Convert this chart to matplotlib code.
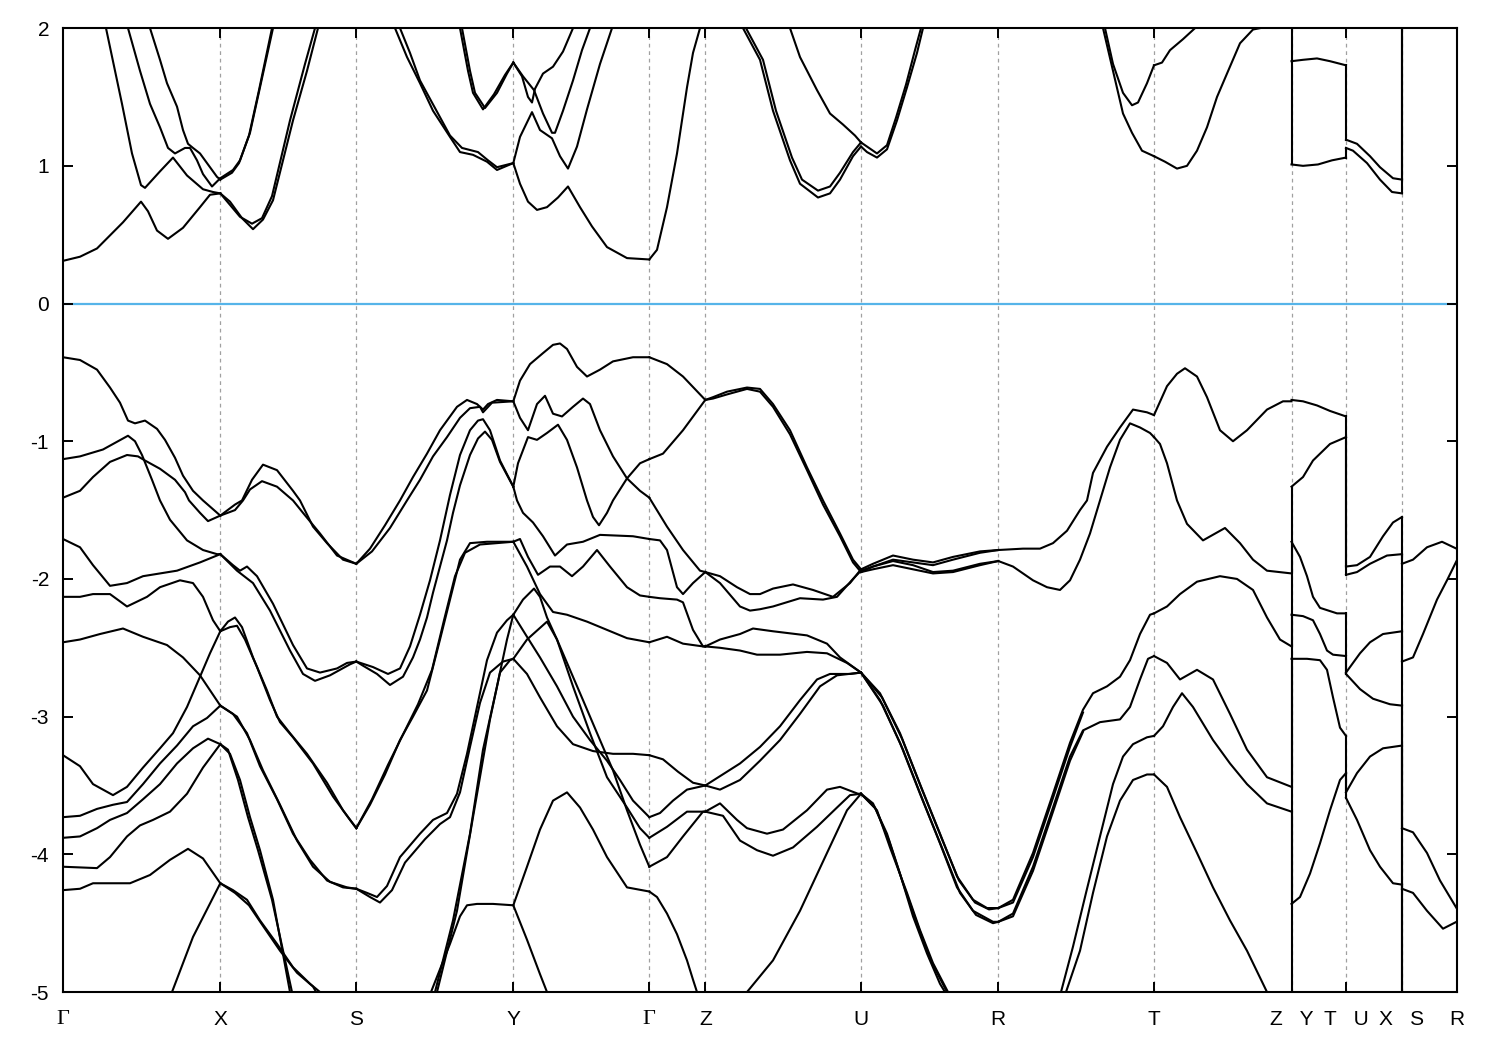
import numpy as np
import matplotlib
matplotlib.use("Agg")
from matplotlib import pyplot as plt

plt.rcParams['font.family'] = ['Liberation Sans', 'DejaVu Sans']
plt.rcParams['axes.unicode_minus'] = False

# k-path (arbitrary path length units) and labels
tick_pos = [0.0, 1.573, 2.933, 4.503, 5.863, 6.423, 7.98, 9.353, 10.91,
            12.285, 12.83, 13.39, 13.935]
tick_lab = ['Γ', 'X', 'S', 'Y', 'Γ', 'Z', 'U', 'R', 'T',
            'Z   Y', 'T   U', 'X   S', 'R']
e_lim = (-5, 2)

# bands, one list of (k, E) per visible line, grouped by path segment
gamma_x = [
    [(0, .31), (.17, .34), (.34, .40), (.60, .59), (.78, .74), (.85, .67), (.94, .53), (1.05, .47),
     (1.20, .55), (1.37, .70), (1.47, .79), (1.573, .80)],
    [(.42, 2.1), (.43, 2.0), (.59, 1.45), (.69, 1.09), (.78, .86), (.82, .84), (.97, .96), (1.10, 1.06),
     (1.24, .93), (1.40, .83), (1.50, .81), (1.573, .80)],
    [(.63, 2.1), (.65, 2.0), (.77, 1.69), (.87, 1.45), (.97, 1.28), (1.05, 1.13), (1.12, 1.09),
     (1.22, 1.13), (1.27, 1.13), (1.34, 1.04), (1.40, .94), (1.49, .85), (1.573, .91)],
    [(.85, 2.1), (.87, 2.0), (.97, 1.77), (1.04, 1.60), (1.14, 1.43), (1.20, 1.26), (1.25, 1.16),
     (1.30, 1.13), (1.37, 1.09), (1.44, 1.02), (1.54, .92), (1.573, .90)],
    [(0, -.39), (.17, -.41), (.34, -.48), (.47, -.61), (.57, -.72), (.65, -.85), (.72, -.87), (.82, -.85),
     (.94, -.91), (1.02, -.99), (1.12, -1.12), (1.20, -1.25), (1.30, -1.36), (1.40, -1.43), (1.573, -1.54)],
    [(0, -1.13), (.17, -1.11), (.40, -1.06), (.55, -1.00), (.65, -.96), (.72, -1.00), (.79, -1.10),
     (.89, -1.28), (.97, -1.43), (1.07, -1.57), (1.24, -1.72), (1.40, -1.79), (1.54, -1.82), (1.573, -1.82)],
    [(0, -1.41), (.17, -1.36), (.30, -1.26), (.47, -1.15), (.64, -1.10), (.75, -1.11), (.82, -1.14),
     (.97, -1.20), (1.12, -1.28), (1.22, -1.37), (1.26, -1.43), (1.37, -1.52), (1.45, -1.58), (1.573, -1.54)],
    [(0, -1.71), (.17, -1.77), (.30, -1.90), (.47, -2.05), (.64, -2.03), (.80, -1.98), (1.14, -1.94),
     (1.37, -1.88), (1.573, -1.82)],
    [(0, -2.13), (.17, -2.13), (.30, -2.11), (.47, -2.11), (.64, -2.20), (.84, -2.13), (.97, -2.06),
     (1.17, -2.01), (1.30, -2.03), (1.40, -2.13), (1.50, -2.30), (1.573, -2.38)],
    [(0, -2.46), (.17, -2.44), (.37, -2.40), (.60, -2.36), (.80, -2.42), (1.04, -2.48), (1.20, -2.57),
     (1.37, -2.70), (1.573, -2.92)],
    [(0, -3.28), (.17, -3.36), (.30, -3.49), (.50, -3.57), (.64, -3.51), (.80, -3.37), (.97, -3.23),
     (1.10, -3.12), (1.24, -2.93), (1.37, -2.71), (1.47, -2.54), (1.573, -2.38)],
    [(0, -3.73), (.17, -3.72), (.34, -3.67), (.50, -3.64), (.64, -3.62), (.80, -3.49), (.97, -3.34),
     (1.14, -3.21), (1.30, -3.07), (1.44, -3.01), (1.573, -2.92)],
    [(0, -3.88), (.17, -3.87), (.34, -3.81), (.47, -3.75), (.64, -3.70), (.80, -3.60), (.97, -3.49),
     (1.14, -3.34), (1.30, -3.23), (1.45, -3.16), (1.573, -3.20)],
    [(0, -4.09), (.34, -4.10), (.47, -4.02), (.64, -3.87), (.77, -3.79), (.90, -3.75), (1.07, -3.69),
     (1.24, -3.56), (1.40, -3.37), (1.573, -3.20)],
    [(0, -4.26), (.17, -4.25), (.30, -4.21), (.67, -4.21), (.87, -4.15), (1.07, -4.04), (1.25, -3.96),
     (1.40, -4.03), (1.573, -4.21)],
    [(1.05, -5.1), (1.09, -5.0), (1.30, -4.60), (1.573, -4.21)],
]

x_s = [
    [(1.573, .80), (1.67, .74), (1.79, .62), (1.90, .54), (2.00, .61), (2.10, .75), (2.30, 1.33),
     (2.44, 1.69), (2.55, 2.0), (2.58, 2.1)],
    [(1.573, .80), (1.77, .63), (1.89, .58), (1.99, .62), (2.09, .78), (2.27, 1.33), (2.42, 1.74),
     (2.52, 2.0), (2.55, 2.1)],
    [(1.573, .91), (1.70, .97), (1.77, 1.04), (1.87, 1.24), (1.97, 1.57), (2.10, 2.0), (2.12, 2.1)],
    [(1.573, .90), (1.69, .95), (1.76, 1.02), (1.86, 1.22), (1.96, 1.55), (2.09, 2.0), (2.11, 2.1)],
    [(1.573, -1.54), (1.72, -1.46), (1.79, -1.43), (1.89, -1.28), (2.00, -1.17), (2.14, -1.21),
     (2.30, -1.36), (2.37, -1.43), (2.50, -1.62), (2.64, -1.74), (2.80, -1.86), (2.933, -1.89)],
    [(1.573, -1.54), (1.72, -1.50), (1.80, -1.43), (1.87, -1.35), (1.99, -1.29), (2.14, -1.33),
     (2.30, -1.43), (2.40, -1.52), (2.57, -1.67), (2.74, -1.83), (2.933, -1.89)],
    [(1.573, -1.82), (1.70, -1.90), (1.77, -1.94), (1.84, -1.91), (1.94, -1.98), (2.10, -2.18),
     (2.30, -2.48), (2.44, -2.65), (2.57, -2.68), (2.74, -2.65), (2.84, -2.61), (2.933, -2.60)],
    [(1.573, -1.82), (1.74, -1.94), (1.90, -2.03), (2.07, -2.23), (2.27, -2.52), (2.40, -2.69),
     (2.52, -2.74), (2.67, -2.70), (2.87, -2.62), (2.933, -2.60)],
    [(1.573, -2.38), (1.65, -2.31), (1.72, -2.28), (1.79, -2.35), (1.90, -2.57), (2.04, -2.81),
     (2.14, -3.00), (2.27, -3.12), (2.44, -3.27), (2.64, -3.48), (2.80, -3.68), (2.933, -3.81)],
    [(1.573, -2.38), (1.67, -2.35), (1.74, -2.34), (1.82, -2.44), (1.94, -2.64), (2.07, -2.88),
     (2.17, -3.04), (2.30, -3.15), (2.50, -3.34), (2.70, -3.58), (2.87, -3.75), (2.933, -3.81)],
    [(1.573, -2.92), (1.70, -2.98), (1.84, -3.12), (1.97, -3.36), (2.14, -3.60), (2.30, -3.85),
     (2.47, -4.04), (2.64, -4.19), (2.80, -4.24), (2.933, -4.25)],
    [(1.573, -2.92), (1.74, -3.00), (1.87, -3.17), (2.00, -3.39), (2.17, -3.64), (2.34, -3.90),
     (2.50, -4.09), (2.67, -4.20), (2.84, -4.24), (2.933, -4.25)],
    [(1.573, -3.20), (1.67, -3.27), (1.77, -3.46), (1.87, -3.73), (1.97, -3.97), (2.10, -4.33),
     (2.27, -5.0), (2.29, -5.1)],
    [(1.573, -3.20), (1.65, -3.24), (1.75, -3.46), (1.85, -3.73), (1.95, -3.97), (2.09, -4.33),
     (2.29, -5.0), (2.31, -5.1)],
    [(1.573, -4.21), (1.70, -4.26), (1.84, -4.33), (1.97, -4.48), (2.14, -4.65), (2.30, -4.82),
     (2.47, -4.94), (2.57, -5.0), (2.60, -5.1)],
    [(1.573, -4.21), (1.72, -4.28), (1.86, -4.37), (2.00, -4.52), (2.17, -4.70), (2.34, -4.86),
     (2.50, -4.96), (2.61, -5.1)],
]

s_y = [
    [(3.30, 2.1), (3.32, 2.0), (3.44, 1.79), (3.57, 1.60), (3.70, 1.40), (3.87, 1.21), (3.97, 1.10),
     (4.10, 1.08), (4.24, 1.03), (4.34, .97), (4.503, 1.02)],
    [(3.35, 2.1), (3.37, 2.0), (3.47, 1.82), (3.57, 1.62), (3.72, 1.42), (3.87, 1.22), (3.99, 1.13),
     (4.15, 1.10), (4.25, 1.04), (4.34, .99), (4.503, 1.02)],
    [(3.97, 2.1), (3.99, 2.0), (4.07, 1.69), (4.12, 1.53), (4.22, 1.42), (4.34, 1.53), (4.44, 1.67),
     (4.503, 1.75)],
    [(3.95, 2.1), (3.97, 2.0), (4.05, 1.69), (4.10, 1.53), (4.20, 1.41), (4.31, 1.52), (4.42, 1.66),
     (4.503, 1.75)],
    [(2.933, -1.89), (3.07, -1.78), (3.22, -1.61), (3.37, -1.43), (3.50, -1.26), (3.64, -1.09),
     (3.77, -.92), (3.94, -.75), (4.04, -.70), (4.14, -.73), (4.20, -.77), (4.25, -.73), (4.34, -.70),
     (4.503, -.71)],
    [(2.933, -1.89), (3.09, -1.80), (3.27, -1.63), (3.44, -1.43), (3.57, -1.28), (3.70, -1.11),
     (3.84, -.97), (3.97, -.83), (4.07, -.76), (4.17, -.75), (4.20, -.79), (4.29, -.72), (4.503, -.71)],
    [(2.933, -2.60), (3.10, -2.64), (3.25, -2.69), (3.37, -2.65), (3.47, -2.49), (3.57, -2.26),
     (3.67, -2.01), (3.77, -1.72), (3.87, -1.39), (3.97, -1.10), (4.07, -.92), (4.15, -.85),
     (4.20, -.84), (4.27, -.92), (4.37, -1.14), (4.503, -1.33)],
    [(2.933, -2.60), (3.00, -2.63), (3.14, -2.69), (3.27, -2.77), (3.40, -2.71), (3.50, -2.57),
     (3.57, -2.44), (3.64, -2.28), (3.70, -2.10), (3.77, -1.91), (3.84, -1.72), (3.90, -1.52),
     (3.97, -1.32), (4.07, -1.10), (4.15, -.98), (4.22, -.93), (4.29, -.99), (4.37, -1.15), (4.503, -1.33)],
    [(2.933, -3.81), (3.07, -3.64), (3.22, -3.42), (3.37, -3.17), (3.50, -3.00), (3.64, -2.81),
     (3.77, -2.44), (3.87, -2.15), (3.97, -1.86), (4.07, -1.74), (4.24, -1.73), (4.503, -1.73)],
    [(2.933, -3.81), (3.09, -3.60), (3.25, -3.35), (3.40, -3.13), (3.55, -2.91), (3.69, -2.66),
     (3.81, -2.30), (3.92, -1.98), (4.02, -1.81), (4.17, -1.75), (4.503, -1.73)],
    [(2.933, -4.25), (3.04, -4.28), (3.14, -4.31), (3.24, -4.23), (3.37, -4.02), (3.57, -3.85),
     (3.70, -3.75), (3.84, -3.70), (3.94, -3.56), (4.04, -3.27), (4.14, -2.93), (4.24, -2.59),
     (4.34, -2.39), (4.44, -2.30), (4.503, -2.26)],
    [(2.933, -4.25), (3.07, -4.31), (3.17, -4.35), (3.29, -4.26), (3.42, -4.06), (3.62, -3.89),
     (3.77, -3.78), (3.87, -3.73), (3.97, -3.55), (4.07, -3.22), (4.17, -2.90), (4.27, -2.68),
     (4.40, -2.60), (4.503, -2.58)],
    [(3.66, -5.1), (3.68, -5.0), (3.87, -4.65), (3.97, -4.45), (4.04, -4.37), (4.14, -4.36),
     (4.30, -4.36), (4.503, -4.37)],
    [(3.70, -5.1), (3.72, -5.0), (3.90, -4.48), (4.07, -3.85), (4.20, -3.24), (4.34, -2.78),
     (4.44, -2.44), (4.503, -2.26)],
    [(3.72, -5.1), (3.74, -5.0), (3.94, -4.41), (4.10, -3.73), (4.27, -3.02), (4.37, -2.68),
     (4.47, -2.59), (4.503, -2.58)],
]

y_gamma = [
    [(4.503, 1.75), (4.60, 1.65), (4.71, 1.55), (4.80, 1.38), (4.89, 1.24), (4.92, 1.24), (5.00, 1.40),
     (5.10, 1.62), (5.19, 1.84), (5.27, 2.0), (5.29, 2.1)],
    [(4.503, 1.75), (4.59, 1.65), (4.65, 1.50), (4.69, 1.46), (4.72, 1.56), (4.80, 1.67), (4.90, 1.72),
     (5.00, 1.83), (5.10, 2.0), (5.12, 2.1)],
    [(4.503, 1.02), (4.57, 1.21), (4.69, 1.39), (4.77, 1.26), (4.89, 1.20), (4.97, 1.07), (5.05, .98),
     (5.14, 1.14), (5.24, 1.41), (5.37, 1.74), (5.49, 2.0), (5.51, 2.1)],
    [(4.503, 1.02), (4.57, .87), (4.65, .74), (4.74, .68), (4.84, .70), (4.95, .77), (5.05, .85),
     (5.17, .70), (5.29, .56), (5.44, .41), (5.64, .33), (5.863, .32)],
    [(4.503, -.71), (4.57, -.56), (4.67, -.44), (4.80, -.36), (4.90, -.30), (4.97, -.29), (5.04, -.33),
     (5.14, -.46), (5.24, -.53), (5.37, -.48), (5.50, -.42), (5.70, -.39), (5.863, -.39)],
    [(4.503, -.71), (4.57, -.83), (4.65, -.92), (4.74, -.73), (4.82, -.67), (4.90, -.80), (4.99, -.82),
     (5.10, -.75), (5.20, -.69), (5.27, -.73), (5.37, -.92), (5.50, -1.11), (5.64, -1.27),
     (5.77, -1.36), (5.863, -1.41)],
    [(4.503, -1.33), (4.55, -1.16), (4.65, -.97), (4.74, -.99), (4.84, -.94), (4.95, -.88), (5.04, -.99),
     (5.14, -1.19), (5.24, -1.43), (5.30, -1.55), (5.36, -1.61), (5.44, -1.52), (5.50, -1.43),
     (5.64, -1.27), (5.77, -1.16), (5.863, -1.13)],
    [(4.503, -1.33), (4.54, -1.43), (4.60, -1.52), (4.70, -1.59), (4.80, -1.69), (4.92, -1.83),
     (5.04, -1.75), (5.20, -1.73), (5.37, -1.68), (5.70, -1.69), (5.863, -1.71)],
    [(4.503, -1.73), (4.57, -1.71), (4.65, -1.84), (4.75, -1.97), (4.87, -1.91), (4.97, -1.91),
     (5.09, -1.98), (5.20, -1.91), (5.34, -1.79), (5.47, -1.91), (5.64, -2.06), (5.77, -2.12),
     (5.863, -2.13)],
    [(4.503, -1.73), (4.64, -1.91), (4.77, -2.11), (4.90, -2.24), (5.04, -2.26), (5.24, -2.31),
     (5.44, -2.37), (5.64, -2.43), (5.863, -2.46)],
    [(4.503, -2.26), (4.60, -2.15), (4.71, -2.07), (4.77, -2.13), (4.84, -2.28), (4.94, -2.44),
     (5.10, -2.78), (5.27, -3.12), (5.44, -3.44), (5.64, -3.66), (5.77, -3.81), (5.863, -3.88)],
    [(4.503, -2.26), (4.64, -2.42), (4.77, -2.57), (4.94, -2.78), (5.10, -3.00), (5.27, -3.17),
     (5.44, -3.32), (5.57, -3.46), (5.70, -3.61), (5.863, -3.73)],
    [(4.503, -2.58), (4.64, -2.44), (4.84, -2.31), (4.94, -2.44), (5.07, -2.66), (5.20, -2.88),
     (5.37, -3.17), (5.50, -3.39), (5.64, -3.68), (5.77, -3.93), (5.863, -4.09)],
    [(4.503, -2.58), (4.64, -2.69), (4.77, -2.86), (4.94, -3.07), (5.10, -3.20), (5.30, -3.25),
     (5.50, -3.27), (5.70, -3.27), (5.863, -3.28)],
    [(4.503, -4.37), (4.64, -4.09), (4.77, -3.82), (4.90, -3.61), (5.04, -3.55), (5.17, -3.66),
     (5.30, -3.82), (5.44, -4.02), (5.64, -4.24), (5.863, -4.27)],
    [(4.503, -4.37), (4.64, -4.62), (4.77, -4.87), (4.84, -5.0), (4.86, -5.1)],
]

gamma_z = [
    [(5.863, .32), (5.94, .39), (6.04, .70), (6.14, 1.09), (6.24, 1.57), (6.30, 1.82), (6.37, 2.0),
     (6.39, 2.1)],
    [(5.863, -.39), (6.04, -.44), (6.20, -.53), (6.423, -.70)],
    [(5.863, -1.13), (6.00, -1.09), (6.20, -.92), (6.423, -.70)],
    [(5.863, -1.41), (6.04, -1.62), (6.20, -1.79), (6.37, -1.94), (6.423, -1.95)],
    [(5.863, -1.71), (5.97, -1.72), (6.04, -1.79), (6.14, -2.06), (6.20, -2.11), (6.30, -2.03),
     (6.423, -1.95)],
    [(5.863, -2.13), (5.97, -2.14), (6.14, -2.15), (6.20, -2.17), (6.30, -2.37), (6.40, -2.49),
     (6.423, -2.49)],
    [(5.863, -2.46), (6.04, -2.42), (6.20, -2.47), (6.40, -2.49), (6.423, -2.49)],
    [(5.863, -3.28), (6.00, -3.31), (6.15, -3.40), (6.30, -3.48), (6.423, -3.50)],
    [(5.863, -3.73), (5.97, -3.70), (6.10, -3.61), (6.24, -3.53), (6.423, -3.50)],
    [(5.863, -3.88), (6.04, -3.80), (6.24, -3.69), (6.423, -3.69)],
    [(5.863, -4.09), (6.04, -4.02), (6.20, -3.87), (6.40, -3.69), (6.423, -3.69)],
    [(5.863, -4.27), (5.94, -4.31), (6.04, -4.43), (6.14, -4.58), (6.24, -4.77), (6.30, -4.91),
     (6.34, -5.0), (6.36, -5.1)],
]

z_u = [
    [(6.78, 2.1), (6.80, 2.0), (6.97, 1.77), (7.10, 1.40), (7.27, 1.04), (7.37, .87), (7.55, .77),
     (7.67, .80), (7.77, .90), (7.90, 1.07), (7.98, 1.14)],
    [(6.81, 2.1), (6.83, 2.0), (7.00, 1.77), (7.13, 1.40), (7.29, 1.06), (7.39, .90), (7.55, .82),
     (7.67, .85), (7.77, .95), (7.90, 1.10), (7.98, 1.17)],
    [(7.25, 2.1), (7.27, 2.0), (7.37, 1.79), (7.54, 1.55), (7.67, 1.38), (7.80, 1.30), (7.92, 1.22),
     (7.98, 1.17)],
    [(6.423, -.70), (6.50, -.68), (6.64, -.64), (6.84, -.61), (6.97, -.62), (7.10, -.73), (7.27, -.92),
     (7.44, -1.19), (7.60, -1.43), (7.77, -1.67), (7.90, -1.86), (7.98, -1.93)],
    [(6.423, -.70), (6.50, -.69), (6.64, -.66), (6.84, -.62), (6.97, -.64), (7.10, -.75), (7.27, -.95),
     (7.44, -1.21), (7.60, -1.46), (7.77, -1.69), (7.90, -1.88), (7.98, -1.95)],
    [(6.423, -1.95), (6.57, -1.98), (6.74, -2.06), (6.87, -2.11), (6.97, -2.11), (7.10, -2.07),
     (7.30, -2.04), (7.50, -2.08), (7.70, -2.13), (7.87, -2.03), (7.98, -1.93)],
    [(6.423, -1.95), (6.57, -2.03), (6.77, -2.20), (6.87, -2.23), (6.97, -2.22), (7.10, -2.20),
     (7.37, -2.14), (7.60, -2.15), (7.74, -2.13), (7.90, -2.00), (7.98, -1.94)],
    [(6.423, -2.49), (6.57, -2.44), (6.77, -2.40), (6.90, -2.36), (7.10, -2.38), (7.44, -2.41),
     (7.64, -2.47), (7.77, -2.57), (7.98, -2.68)],
    [(6.423, -2.49), (6.57, -2.50), (6.77, -2.52), (6.94, -2.55), (7.17, -2.55), (7.44, -2.53),
     (7.64, -2.54), (7.84, -2.61), (7.98, -2.68)],
    [(6.423, -3.50), (6.64, -3.40), (6.77, -3.34), (6.97, -3.22), (7.17, -3.07), (7.37, -2.88),
     (7.54, -2.73), (7.67, -2.69), (7.87, -2.69), (7.98, -2.68)],
    [(6.423, -3.50), (6.57, -3.53), (6.77, -3.46), (6.97, -3.32), (7.17, -3.17), (7.37, -2.98),
     (7.57, -2.78), (7.74, -2.70), (7.98, -2.68)],
    [(6.423, -3.69), (6.57, -3.63), (6.74, -3.75), (6.84, -3.81), (7.04, -3.85), (7.20, -3.82),
     (7.44, -3.68), (7.64, -3.53), (7.77, -3.51), (7.95, -3.56), (7.98, -3.56)],
    [(6.423, -3.69), (6.60, -3.72), (6.77, -3.90), (6.94, -3.97), (7.10, -4.01), (7.30, -3.95),
     (7.54, -3.80), (7.74, -3.66), (7.87, -3.57), (7.98, -3.56)],
    [(6.80, -5.1), (6.84, -5.0), (7.10, -4.77), (7.37, -4.41), (7.64, -3.99), (7.84, -3.68),
     (7.98, -3.56)],
]

u_r = [
    [(7.98, 1.14), (8.04, 1.10), (8.14, 1.06), (8.24, 1.12), (8.34, 1.33), (8.44, 1.57), (8.54, 1.82),
     (8.60, 2.0), (8.62, 2.1)],
    [(7.98, 1.17), (8.04, 1.14), (8.14, 1.09), (8.24, 1.15), (8.33, 1.35), (8.43, 1.59), (8.52, 1.84),
     (8.58, 2.0), (8.60, 2.1)],
    [(7.98, -1.93), (8.10, -1.89), (8.30, -1.83), (8.50, -1.86), (8.70, -1.88), (8.90, -1.84),
     (9.17, -1.80), (9.353, -1.79)],
    [(7.98, -1.94), (8.10, -1.91), (8.30, -1.86), (8.50, -1.88), (8.70, -1.90), (8.90, -1.86),
     (9.17, -1.81), (9.353, -1.79)],
    [(7.98, -1.95), (8.10, -1.91), (8.30, -1.87), (8.50, -1.90), (8.70, -1.95), (8.90, -1.94),
     (9.17, -1.89), (9.353, -1.87)],
    [(7.98, -1.95), (8.10, -1.93), (8.30, -1.90), (8.50, -1.93), (8.70, -1.96), (8.90, -1.95),
     (9.17, -1.90), (9.353, -1.87)],
    [(7.98, -2.68), (8.17, -2.83), (8.37, -3.12), (8.57, -3.49), (8.77, -3.85), (8.94, -4.16),
     (9.10, -4.33), (9.24, -4.39), (9.353, -4.39)],
    [(7.98, -2.68), (8.19, -2.86), (8.39, -3.16), (8.59, -3.53), (8.79, -3.89), (8.96, -4.19),
     (9.12, -4.35), (9.26, -4.40), (9.353, -4.39)],
    [(7.98, -2.68), (8.17, -2.88), (8.37, -3.19), (8.57, -3.56), (8.77, -3.92), (8.94, -4.24),
     (9.10, -4.41), (9.30, -4.49), (9.353, -4.49)],
    [(7.98, -2.68), (8.20, -2.92), (8.40, -3.24), (8.60, -3.61), (8.80, -3.97), (8.97, -4.28),
     (9.13, -4.44), (9.30, -4.50), (9.353, -4.49)],
    [(7.98, -3.56), (8.10, -3.63), (8.24, -3.85), (8.37, -4.14), (8.50, -4.45), (8.64, -4.72),
     (8.77, -4.94), (8.82, -5.0), (8.84, -5.1)],
    [(7.98, -3.56), (8.14, -3.68), (8.27, -3.95), (8.44, -4.28), (8.57, -4.55), (8.70, -4.79),
     (8.85, -5.0), (8.87, -5.1)],
    [(7.98, -3.56), (8.12, -3.66), (8.26, -3.90), (8.40, -4.21), (8.54, -4.50), (8.67, -4.76),
     (8.84, -5.0), (8.86, -5.1)],
]

r_t = [
    [(10.40, 2.1), (10.42, 2.0), (10.50, 1.74), (10.60, 1.53), (10.69, 1.44), (10.75, 1.46),
     (10.84, 1.60), (10.91, 1.73)],
    [(10.38, 2.1), (10.40, 2.0), (10.50, 1.69), (10.60, 1.38), (10.69, 1.24), (10.79, 1.11),
     (10.91, 1.07)],
    [(9.353, -1.79), (9.60, -1.78), (9.77, -1.78), (9.90, -1.74), (10.04, -1.65), (10.17, -1.50),
     (10.24, -1.43), (10.30, -1.23), (10.44, -1.04), (10.57, -.90), (10.70, -.77), (10.84, -.79),
     (10.91, -.81)],
    [(9.353, -1.87), (9.50, -1.91), (9.70, -2.01), (9.84, -2.06), (9.97, -2.08), (10.07, -2.01),
     (10.17, -1.86), (10.27, -1.67), (10.37, -1.43), (10.47, -1.19), (10.57, -.99), (10.67, -.87),
     (10.77, -.90), (10.87, -.94), (10.91, -.97)],
    [(9.353, -4.39), (9.50, -4.33), (9.70, -3.99), (9.90, -3.56), (10.07, -3.19), (10.20, -2.95),
     (10.30, -2.83), (10.44, -2.78), (10.57, -2.71), (10.67, -2.59), (10.77, -2.40), (10.87, -2.26),
     (10.91, -2.25)],
    [(9.353, -4.39), (9.50, -4.35), (9.70, -4.02), (9.90, -3.59), (10.07, -3.22), (10.20, -2.97)],
    [(9.353, -4.49), (9.50, -4.43), (9.70, -4.09), (9.90, -3.66), (10.07, -3.29), (10.20, -3.10),
     (10.37, -3.04), (10.57, -3.02), (10.67, -2.93), (10.77, -2.73), (10.85, -2.58), (10.91, -2.56)],
    [(9.353, -4.49), (9.50, -4.45), (9.70, -4.12), (9.90, -3.69), (10.07, -3.32), (10.20, -3.11)],
    [(9.96, -5.1), (9.98, -5.0), (10.10, -4.67), (10.23, -4.28), (10.37, -3.87), (10.50, -3.49),
     (10.60, -3.29), (10.70, -3.20), (10.84, -3.15), (10.91, -3.14)],
    [(10.01, -5.1), (10.03, -5.0), (10.17, -4.70), (10.30, -4.28), (10.44, -3.87), (10.57, -3.61),
     (10.70, -3.46), (10.84, -3.42), (10.91, -3.42)],
]

t_z = [
    [(10.91, 1.73), (10.99, 1.75), (11.07, 1.84), (11.20, 1.92), (11.32, 2.0), (11.34, 2.1)],
    [(10.91, 1.07), (11.02, 1.03), (11.14, .98), (11.24, 1.00), (11.34, 1.11), (11.44, 1.28),
     (11.54, 1.50), (11.64, 1.67), (11.77, 1.89), (11.90, 1.99), (11.97, 2.0), (12.10, 2.02),
     (12.285, 2.03)],
    [(10.91, -.81), (11.04, -.60), (11.14, -.51), (11.22, -.47), (11.34, -.53), (11.44, -.68),
     (11.57, -.92), (11.70, -1.00), (11.84, -.92), (12.04, -.77), (12.20, -.71), (12.285, -.71)],
    [(10.91, -.97), (10.97, -1.02), (11.04, -1.16), (11.14, -1.43), (11.24, -1.60), (11.40, -1.72),
     (11.62, -1.63), (11.77, -1.74), (11.90, -1.86), (12.04, -1.94), (12.285, -1.96)],
    [(10.91, -2.25), (11.04, -2.20), (11.17, -2.11), (11.34, -2.02), (11.57, -1.98), (11.74, -2.00),
     (11.90, -2.08), (12.04, -2.28), (12.17, -2.44), (12.285, -2.49)],
    [(10.91, -2.56), (11.04, -2.61), (11.17, -2.73), (11.34, -2.66), (11.50, -2.73), (11.67, -2.98),
     (11.84, -3.24), (12.04, -3.44), (12.285, -3.51)],
    [(10.91, -3.14), (11.00, -3.07), (11.10, -2.93), (11.19, -2.83), (11.30, -2.93), (11.50, -3.17),
     (11.67, -3.34), (11.84, -3.49), (12.04, -3.63), (12.285, -3.69)],
    [(10.91, -3.42), (11.04, -3.51), (11.17, -3.73), (11.34, -3.99), (11.50, -4.24), (11.67, -4.48),
     (11.84, -4.70), (12.04, -5.0), (12.08, -5.1)],
]

y_t = [
    [(12.285, 1.76), (12.40, 1.77), (12.54, 1.78), (12.67, 1.76), (12.83, 1.73)],
    [(12.285, 1.01), (12.40, 1.00), (12.55, 1.01), (12.69, 1.04), (12.83, 1.06)],
    [(12.285, -.70), (12.40, -.71), (12.54, -.74), (12.67, -.78), (12.83, -.82)],
    [(12.285, -1.33), (12.40, -1.26), (12.50, -1.14), (12.67, -1.02), (12.83, -.97)],
    [(12.285, -1.73), (12.37, -1.84), (12.44, -1.98), (12.50, -2.13), (12.57, -2.21), (12.74, -2.25),
     (12.83, -2.25)],
    [(12.285, -2.26), (12.40, -2.27), (12.50, -2.30), (12.57, -2.40), (12.64, -2.52), (12.70, -2.55),
     (12.83, -2.56)],
    [(12.285, -2.58), (12.44, -2.58), (12.57, -2.59), (12.64, -2.66), (12.70, -2.86), (12.77, -3.08),
     (12.83, -3.14)],
    [(12.285, -4.36), (12.37, -4.31), (12.47, -4.14), (12.57, -3.92), (12.67, -3.68), (12.77, -3.46),
     (12.83, -3.41)],
]

u_x = [
    [(12.83, 1.19), (12.94, 1.16), (13.07, 1.07), (13.17, .99), (13.30, .91), (13.39, .90)],
    [(12.83, 1.13), (12.90, 1.11), (13.04, 1.02), (13.17, .90), (13.29, .81), (13.39, .80)],
    [(12.83, -1.91), (12.94, -1.90), (13.07, -1.84), (13.20, -1.69), (13.30, -1.59), (13.39, -1.55)],
    [(12.83, -1.97), (12.94, -1.95), (13.07, -1.89), (13.24, -1.83), (13.39, -1.82)],
    [(12.83, -2.68), (12.97, -2.54), (13.07, -2.46), (13.20, -2.40), (13.39, -2.38)],
    [(12.83, -2.69), (12.97, -2.80), (13.10, -2.87), (13.27, -2.91), (13.39, -2.92)],
    [(12.83, -3.55), (12.94, -3.41), (13.07, -3.29), (13.20, -3.23), (13.39, -3.21)],
    [(12.83, -3.59), (12.94, -3.75), (13.07, -3.97), (13.17, -4.09), (13.30, -4.21), (13.39, -4.22)],
]

s_r = [
    [(13.39, -1.89), (13.50, -1.86), (13.64, -1.77), (13.79, -1.73), (13.935, -1.78)],
    [(13.39, -2.60), (13.50, -2.57), (13.60, -2.40), (13.74, -2.15), (13.84, -2.01), (13.935, -1.87)],
    [(13.39, -3.81), (13.50, -3.84), (13.64, -3.99), (13.77, -4.19), (13.935, -4.39)],
    [(13.39, -4.25), (13.50, -4.28), (13.64, -4.41), (13.80, -4.54), (13.935, -4.49)],
]

# band jumps at the path discontinuities Z|Y, T|U, X|S: (k, E before, E after)
jumps = [
    (12.285, 2.1, 1.01), (12.285, -1.96, -1.33), (12.285, -2.49, -1.73), (12.285, -3.51, -2.26),
    (12.285, -3.69, -4.36), (12.285, -5.1, -2.58),
    (12.83, 1.73, 1.19), (12.83, 1.06, 1.13), (12.83, -.82, -1.97), (12.83, -.97, -1.91),
    (12.83, -2.25, -2.68), (12.83, -2.56, -2.69), (12.83, -3.14, -3.59), (12.83, -3.41, -3.55),
    (13.39, .90, 2.1), (13.39, .80, 2.1), (13.39, -1.55, -1.89), (13.39, -1.82, -2.60),
    (13.39, -2.38, -3.81), (13.39, -2.92, -4.25), (13.39, -3.21, -5.1), (13.39, -4.22, -5.1),
]

segments = [gamma_x, x_s, s_y, y_gamma, gamma_z, z_u, u_r, r_t, t_z, y_t, u_x, s_r]

fig = plt.figure(figsize=(15, 10.5), dpi=100)
ax = fig.add_axes([0.042, 0.0552, 0.929, 0.918])

for x in tick_pos[1:-1]:
    ax.axvline(x, color='#a0a0a0', lw=0.9, ls=(0, (3, 3)), zorder=0)
ax.axhline(0, color='#56b4e9', lw=1.6, zorder=1)

for seg in segments:
    for band in seg:
        k, e = np.array(band).T
        ax.plot(k, e, color='black', lw=1.5, zorder=2, solid_joinstyle='round')
for k, e0, e1 in jumps:
    ax.plot([k, k], [e0, e1], color='black', lw=1.5, zorder=2)

ax.set_xlim(tick_pos[0], tick_pos[-1])
ax.set_ylim(*e_lim)
ax.set_xticks(tick_pos)
ax.set_xticklabels(tick_lab)
ax.set_yticks(np.arange(e_lim[0], e_lim[1] + 1))
ax.tick_params(axis='both', direction='in', length=7, width=1.4, labelsize=15,
               top=True, right=True)
ax.tick_params(axis='x', pad=13)
ax.tick_params(axis='y', pad=10)
for lab in ax.get_xticklabels():
    if lab.get_text() == 'Γ':
        lab.set_fontfamily(['Liberation Serif', 'DejaVu Serif'])
        lab.set_fontsize(16)
for sp in ax.spines.values():
    sp.set_linewidth(1.5)

fig.savefig('out.png', dpi=100)
